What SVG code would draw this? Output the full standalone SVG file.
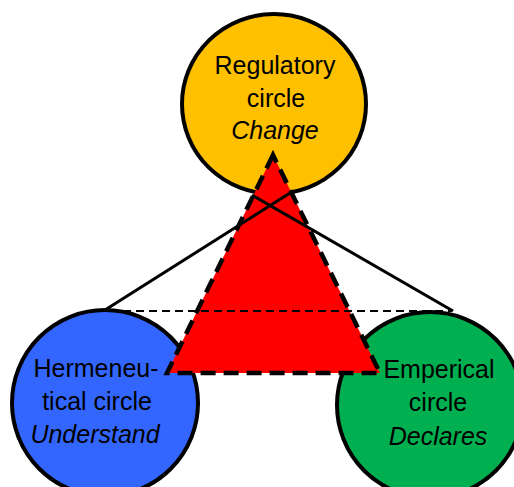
<svg xmlns="http://www.w3.org/2000/svg" width="514" height="487" viewBox="0 0 514 487">
<style>
.c{stroke:#000;stroke-width:4}
.t{font-family:"Liberation Sans",Arial,sans-serif;font-size:25px;fill:#000;text-anchor:middle}
.i{font-style:italic}
</style>
<rect width="514" height="487" fill="#fff"/>
<g id="regulatory">
<ellipse class="c" cx="274" cy="104" rx="92" ry="90" fill="#FFC000"/>
</g>
<g id="hermeneutical">
<circle class="c" cx="105" cy="403" r="93" fill="#3366FF"/>
</g>
<g id="emperical">
<circle class="c" cx="430" cy="405" r="93" fill="#00B050"/>
</g>
<g id="triangle">
<polygon points="273,155 167,373 380,373" fill="#FF0000" stroke="#000" stroke-width="4.5" stroke-dasharray="15,8"/>
</g>
<g id="connectors" stroke="#000" fill="none">
<line x1="105" y1="310" x2="290" y2="193" stroke-width="3"/>
<line x1="453" y1="311" x2="252" y2="195" stroke-width="3"/>
<line x1="110" y1="311" x2="452" y2="311" stroke-width="2" stroke-dasharray="8,5"/>
</g>
<g id="labels">
<text class="t" x="275" y="74">Regulatory</text>
<text class="t" x="276" y="107">circle</text>
<text class="t i" x="275" y="139">Change</text>
<text class="t" x="96" y="377">Hermeneu-</text>
<text class="t" x="97" y="410">tical circle</text>
<text class="t i" x="95" y="443">Understand</text>
<text class="t" x="439" y="378">Emperical</text>
<text class="t" x="438" y="411">circle</text>
<text class="t i" x="438" y="445">Declares</text>
</g>
</svg>
